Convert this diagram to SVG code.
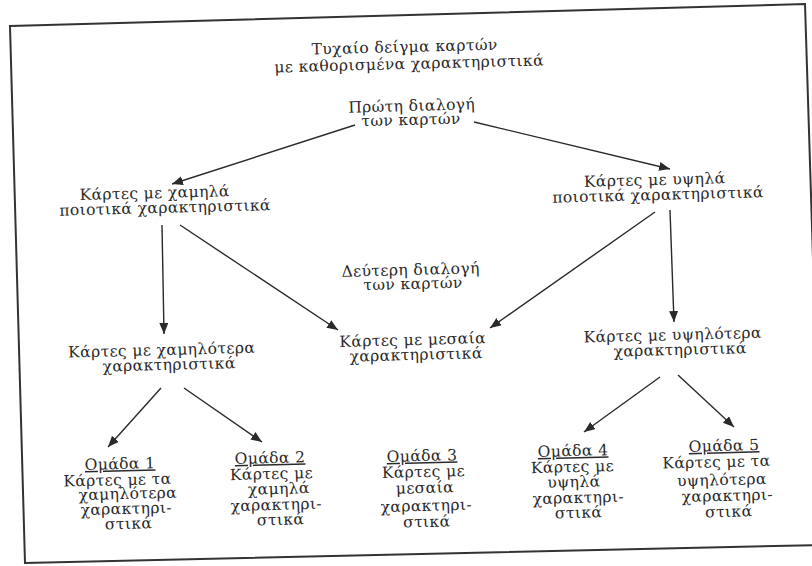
<svg xmlns="http://www.w3.org/2000/svg" width="812" height="566" viewBox="0 0 812 566">
<style>
text{font-family:"DejaVu Serif","Liberation Serif",serif;font-size:15.5px;letter-spacing:0.4px;fill:#2a2a2a;text-anchor:middle}
.u{text-decoration:underline}
.c{stroke:#2a2a2a;stroke-width:1.4;fill:none;marker-end:url(#ah)}
</style>
<defs>
<marker id="ah" markerUnits="userSpaceOnUse" markerWidth="12" markerHeight="10" refX="11" refY="4.5" orient="auto">
<path d="M0,0 L11,4.5 L0,9 z" fill="#2a2a2a"/>
</marker>
</defs>
<rect width="812" height="566" fill="#fff"/>
<polygon points="10,26 805,4 822,545 25,563" fill="none" stroke="#333" stroke-width="2"/>
<g id="title" transform="rotate(-1.5 407 60)">
<text x="405" y="52">Τυχαίο δείγμα καρτών</text>
<text x="409" y="69">με καθορισμένα χαρακτηριστικά</text>
</g>
<g id="first" transform="rotate(-1.5 412 118)">
<text x="412" y="111">Πρώτη διαλογή</text>
<text x="411" y="125">των καρτών</text>
</g>
<g id="low" transform="rotate(-1.5 160 205)">
<text x="155" y="198">Κάρτες με χαμηλά</text>
<text x="165" y="213">ποιοτικά χαρακτηριστικά</text>
</g>
<g id="high" transform="rotate(-1.5 657 192)">
<text x="655" y="185">Κάρτες με υψηλά</text>
<text x="658" y="200">ποιοτικά χαρακτηριστικά</text>
</g>
<g id="second" transform="rotate(-1.5 412 282)">
<text x="411" y="275">Δεύτερη διαλογή</text>
<text x="413" y="289">των καρτών</text>
</g>
<g id="medium" transform="rotate(-1.5 414 352)">
<text x="413" y="345">Κάρτες με μεσαία</text>
<text x="416" y="360">χαρακτηριστικά</text>
</g>
<g id="lower" transform="rotate(-1.5 165 362)">
<text x="162" y="355">Κάρτες με χαμηλότερα</text>
<text x="169" y="370">χαρακτηριστικά</text>
</g>
<g id="higher" transform="rotate(-1.5 676 347)">
<text x="673" y="340">Κάρτες με υψηλότερα</text>
<text x="680" y="355">χαρακτηριστικά</text>
</g>
<g id="group1" transform="rotate(-1.5 124 500)">
<text class="u" x="121" y="469">Ομάδα 1</text>
<text x="118" y="485">Κάρτες με τα</text>
<text x="128" y="499">χαμηλότερα</text>
<text x="126" y="514">χαρακτηρι-</text>
<text x="128" y="529">στικά</text>
</g>
<g id="group2" transform="rotate(-1.5 275 495)">
<text class="u" x="271" y="463">Ομάδα 2</text>
<text x="272" y="479">Κάρτες με</text>
<text x="279" y="494">χαμηλά</text>
<text x="276" y="510">χαρακτηρι-</text>
<text x="280" y="525">στικά</text>
</g>
<g id="group3" transform="rotate(-1.5 425 494)">
<text class="u" x="423" y="461">Ομάδα 3</text>
<text x="424" y="477">Κάρτες με</text>
<text x="425" y="493">μεσαία</text>
<text x="426" y="511">χαρακτηρι-</text>
<text x="426" y="527">στικά</text>
</g>
<g id="group4" transform="rotate(-1.5 576 488)">
<text class="u" x="574" y="456">Ομάδα 4</text>
<text x="573" y="472">Κάρτες με</text>
<text x="574" y="487">υψηλά</text>
<text x="578" y="503">χαρακτηρι-</text>
<text x="578" y="518">στικά</text>
</g>
<g id="group5" transform="rotate(-1.5 724 484)">
<text class="u" x="725" y="451">Ομάδα 5</text>
<text x="717" y="467">Κάρτες με τα</text>
<text x="722" y="485">υψηλότερα</text>
<text x="727" y="501">χαρακτηρι-</text>
<text x="728" y="517">στικά</text>
</g>
<g id="connectors">
<line class="c" x1="355" y1="125" x2="172" y2="184"/>
<line class="c" x1="474" y1="122" x2="670" y2="169"/>
<line class="c" x1="162" y1="225" x2="164" y2="334"/>
<line class="c" x1="180" y1="225" x2="338" y2="330"/>
<line class="c" x1="655" y1="212" x2="490" y2="328"/>
<line class="c" x1="670" y1="210" x2="674" y2="322"/>
<line class="c" x1="161" y1="388" x2="108" y2="447"/>
<line class="c" x1="184" y1="388" x2="262" y2="442"/>
<line class="c" x1="660" y1="377" x2="584" y2="432"/>
<line class="c" x1="678" y1="375" x2="734" y2="427"/>
</g>
</svg>
